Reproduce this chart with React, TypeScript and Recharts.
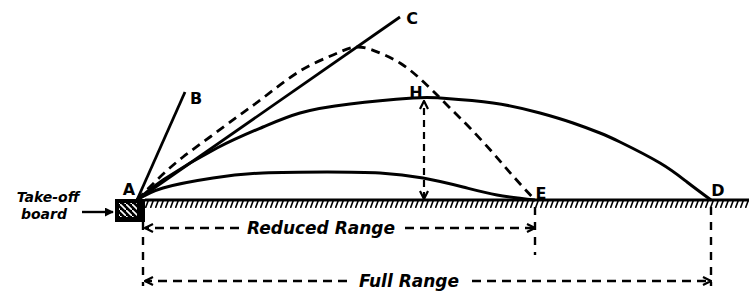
import { ComposedChart, Line, XAxis, YAxis, ReferenceLine, ReferenceArea, Scatter } from 'recharts'

// Diagram units: x = distance from the take-off point A, y = height above the ground

// ─── Flight paths ─────────────────────────────────────────────────────────────

const idealPath = [
  { x: 0, y: 0 }, { x: 23, y: 23 }, { x: 46, y: 43 }, { x: 73, y: 63 }, { x: 100, y: 83 },
  { x: 126, y: 102 }, { x: 163, y: 129 }, { x: 196, y: 145 }, { x: 220, y: 153 }, { x: 243, y: 147 },
  { x: 263, y: 137 }, { x: 280, y: 124 }, { x: 296, y: 109 }, { x: 313, y: 92 }, { x: 333, y: 72 },
  { x: 356, y: 47 }, { x: 376, y: 24 }, { x: 398, y: 0 },
]

const fullPath = [
  { x: 0, y: 0 }, { x: 26, y: 20 }, { x: 80, y: 52 }, { x: 126, y: 73 }, { x: 163, y: 87 },
  { x: 213, y: 96 }, { x: 276, y: 102 }, { x: 303, y: 102 }, { x: 356, y: 97 }, { x: 403, y: 87 },
  { x: 436, y: 77 }, { x: 463, y: 67 }, { x: 483, y: 58 }, { x: 523, y: 37 }, { x: 550, y: 18 },
  { x: 574, y: 0 },
]

const lowPath = [
  { x: 0, y: 0 }, { x: 26, y: 12 }, { x: 76, y: 22 }, { x: 126, y: 27 }, { x: 190, y: 28 },
  { x: 243, y: 27 }, { x: 286, y: 22 }, { x: 326, y: 13 }, { x: 360, y: 5 }, { x: 398, y: 0 },
]

const lineAB = [{ x: 0, y: 0 }, { x: 48, y: 108 }]
const lineAC = [{ x: 0, y: 0 }, { x: 263, y: 183 }]

// ─── Key distances ────────────────────────────────────────────────────────────

const reducedRange = 398
const fullRange = 574
const heightH = { x: 287, y: 100 }
const groundEnd = 612
const boardLeft = -22
const boardFront = 8
const boardDepth = -22
const reducedY = -28
const fullY = -81

// ─── Labels ───────────────────────────────────────────────────────────────────

const letterLabels = [
  { x: -8, y: 11, text: 'A' },
  { x: 59, y: 102, text: 'B' },
  { x: 275, y: 182, text: 'C' },
  { x: 279, y: 108, text: 'H' },
  { x: 404, y: 7, text: 'E' },
  { x: 581, y: 10, text: 'D' },
]

const rangeLabels = [
  { x: 184, y: reducedY, text: 'Reduced Range' },
  { x: 272, y: fullY, text: 'Full Range' },
]

const boardLabels = [
  { x: -89, y: 3, text: 'Take-off' },
  { x: -93, y: -14, text: 'board' },
]

const ink = '#000'
const dash = '9 6'

function textShape(size: number, italic: boolean) {
  return (p: any) => (
    <text
      x={p.cx}
      y={p.cy}
      textAnchor="middle"
      dominantBaseline="central"
      fontFamily="'DejaVu Sans', sans-serif"
      fontWeight="bold"
      fontStyle={italic ? 'italic' : 'normal'}
      fontSize={size}
      fill={ink}
    >
      {p.payload.text}
    </text>
  )
}

export default function App() {
  return (
    <div style={{ width: 749, height: 291, background: '#fff' }}>
      <style>{'body{margin:0}'}</style>
      <ComposedChart width={749} height={291} margin={{ top: 0, right: 0, bottom: 0, left: 0 }}>
        <defs>
          <pattern id="hatch" patternUnits="userSpaceOnUse" width={5} height={8}>
            <path d="M0.5,8 L3.5,0" stroke={ink} strokeWidth={1.6} />
          </pattern>
          <pattern id="boardStripes" patternUnits="userSpaceOnUse" width={6} height={6}>
            <rect width={6} height={6} fill={ink} />
            <path d="M0,0 L6,6" stroke="#fff" strokeWidth={1.6} />
          </pattern>
          <marker id="chev" viewBox="0 0 10 10" refX={9} refY={5} markerWidth={10} markerHeight={10}
            markerUnits="userSpaceOnUse" orient="auto-start-reverse">
            <path d="M1,1 L9,5 L1,9" fill="none" stroke={ink} strokeWidth={2.2} />
          </marker>
          <marker id="solidHead" viewBox="0 0 10 10" refX={9} refY={5} markerWidth={9} markerHeight={9}
            markerUnits="userSpaceOnUse" orient="auto">
            <path d="M0,0 L10,5 L0,10 Z" fill={ink} />
          </marker>
        </defs>

        <XAxis type="number" dataKey="x" domain={[-137, 612]} hide allowDataOverflow />
        <YAxis type="number" dataKey="y" domain={[-91, 200]} hide allowDataOverflow />

        {/* Ground with hatching and the take-off board */}
        <ReferenceArea x1={boardFront} x2={groundEnd} y1={-8} y2={0} fill="url(#hatch)" fillOpacity={1} stroke="none" />
        <ReferenceLine segment={[{ x: boardFront, y: 0 }, { x: groundEnd, y: 0 }]} stroke={ink} strokeWidth={3} />
        <ReferenceArea x1={boardLeft} x2={boardFront} y1={boardDepth} y2={1} fill={ink} fillOpacity={1} stroke="none" />
        <ReferenceArea x1={boardLeft + 4} x2={boardFront - 8} y1={boardDepth + 5} y2={-3} fill="url(#boardStripes)" fillOpacity={1} stroke="none" />

        {/* Take-off directions */}
        <Line data={lineAB} dataKey="y" type="linear" stroke={ink} strokeWidth={2.8} dot={false} isAnimationActive={false} />
        <Line data={lineAC} dataKey="y" type="linear" stroke={ink} strokeWidth={2.8} dot={false} isAnimationActive={false} />

        {/* Flight paths */}
        <Line data={idealPath} dataKey="y" type="natural" stroke={ink} strokeWidth={2.8} strokeDasharray={dash} dot={false} isAnimationActive={false} />
        <Line data={fullPath} dataKey="y" type="natural" stroke={ink} strokeWidth={3} dot={false} isAnimationActive={false} />
        <Line data={lowPath} dataKey="y" type="natural" stroke={ink} strokeWidth={3} dot={false} isAnimationActive={false} />

        {/* Height H */}
        <ReferenceLine segment={[{ x: heightH.x, y: 1 }, { x: heightH.x, y: heightH.y - 1 }]} stroke={ink} strokeWidth={2.2}
          strokeDasharray="7 5" markerStart="url(#chev)" markerEnd="url(#chev)" />

        {/* Range markers */}
        <ReferenceLine segment={[{ x: 6, y: boardDepth }, { x: 6, y: -86 }]} stroke={ink} strokeWidth={2.4} strokeDasharray="8 7" />
        <ReferenceLine segment={[{ x: reducedRange, y: -7 }, { x: reducedRange, y: -55 }]} stroke={ink} strokeWidth={2.4} strokeDasharray="8 7" />
        <ReferenceLine segment={[{ x: fullRange, y: -7 }, { x: fullRange, y: -86 }]} stroke={ink} strokeWidth={2.4} strokeDasharray="8 7" />

        <ReferenceLine segment={[{ x: 102, y: reducedY }, { x: 8, y: reducedY }]} stroke={ink} strokeWidth={2.6}
          strokeDasharray={dash} markerEnd="url(#chev)" />
        <ReferenceLine segment={[{ x: 268, y: reducedY }, { x: reducedRange, y: reducedY }]} stroke={ink} strokeWidth={2.6}
          strokeDasharray={dash} markerEnd="url(#chev)" />
        <ReferenceLine segment={[{ x: 210, y: fullY }, { x: 8, y: fullY }]} stroke={ink} strokeWidth={2.6}
          strokeDasharray={dash} markerEnd="url(#chev)" />
        <ReferenceLine segment={[{ x: 335, y: fullY }, { x: fullRange, y: fullY }]} stroke={ink} strokeWidth={2.6}
          strokeDasharray={dash} markerEnd="url(#chev)" />

        {/* Take-off board pointer */}
        <ReferenceLine segment={[{ x: -55, y: -12 }, { x: boardLeft - 2, y: -12 }]} stroke={ink} strokeWidth={2.4} markerEnd="url(#solidHead)" />

        {/* Text */}
        <Scatter data={letterLabels} shape={textShape(16, false)} isAnimationActive={false} />
        <Scatter data={rangeLabels} shape={textShape(17, true)} isAnimationActive={false} />
        <Scatter data={boardLabels} shape={textShape(14, true)} isAnimationActive={false} />
      </ComposedChart>
    </div>
  )
}
